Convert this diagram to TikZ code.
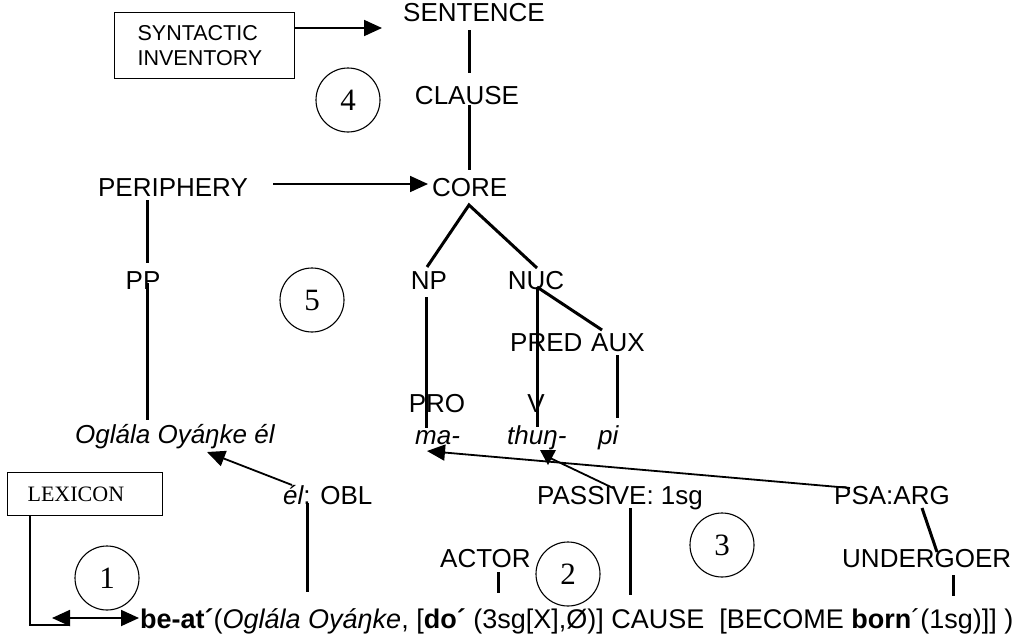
\documentclass[tikz,border=0pt]{standalone}
\usepackage{fontspec}
\setmainfont{Liberation Sans}
\newfontfamily\serifface{Liberation Serif}
\usetikzlibrary{arrows.meta}

\begin{document}
\begin{tikzpicture}[x=1pt,y=-1pt,
  lbl/.style={inner sep=0pt, font=\fontsize{26}{30}\selectfont},
  itlbl/.style={lbl, font=\fontsize{26}{30}\selectfont\itshape},
  num/.style={draw, circle, minimum size=64pt, inner sep=0pt, line width=1.1pt,
              font=\serifface\fontsize{31}{31}\selectfont},
  branch/.style={line width=3pt},
  tick/.style={line width=3pt},
  arr/.style={line width=1.8pt, -{Triangle[length=18pt,width=16pt]}},
  darr/.style={line width=1.8pt, {Triangle[length=18pt,width=16pt]}-{Triangle[length=18pt,width=16pt]}},
  boxed/.style={draw, line width=1.2pt, anchor=north west, align=left},
]
\useasboundingbox (0,0) rectangle (1027,637);

% ---- syntactic side -------------------------------------------------
\node[boxed, minimum width=180pt, minimum height=66pt, text width=134pt, inner xsep=23pt,
      font=\fontsize{21.5}{25}\selectfont] (syninv) at (114,12) {SYNTACTIC\\INVENTORY};
\node[lbl, anchor=base] (sentence) at (474,21) {SENTENCE};
\node[lbl, anchor=base] (clause) at (467,104) {CLAUSE};
\node[lbl, anchor=base west] (core) at (432,196) {CORE};
\node[lbl, anchor=base] (periphery) at (173,196) {PERIPHERY};
\node[lbl, anchor=base] (pp) at (143,289) {PP};
\node[lbl, anchor=base] (np) at (429,289) {NP};
\node[lbl, anchor=base] (nuc) at (536,289) {NUC};
\node[lbl, anchor=base west] (pred) at (510,351) {PRED};
\node[lbl, anchor=base west] (aux) at (591,351) {AUX};
\node[lbl, anchor=base] (pro) at (437,412) {PRO};
\node[lbl, anchor=base] (v) at (536,412) {V};

% ---- the clause itself -----------------------------------------------
\node[itlbl, anchor=base west] (oglala) at (75,443) {Oglála Oyáŋke él};
\node[itlbl, anchor=base west] (ma) at (415,444) {ma-};
\node[itlbl, anchor=base west] (thun) at (507,444) {thuŋ-};
\node[itlbl, anchor=base west] (pi) at (598,444) {pi};

% ---- semantic side ---------------------------------------------------
\node[boxed, minimum width=155pt, minimum height=43pt, text width=115pt, inner xsep=20pt,
      font=\serifface\fontsize{22}{24}\selectfont] (lexicon) at (7,472) {LEXICON};
\node[lbl, anchor=base west] (obl) at (283,504) {{\itshape él}: OBL};
\node[lbl, anchor=base west] (passive) at (537,504) {PASSIVE: 1sg};
\node[lbl, anchor=base west] (psa) at (834,504) {PSA:ARG};
\node[lbl, anchor=base west] (actor) at (440,567) {ACTOR};
\node[lbl, anchor=base west] (undergoer) at (842,567) {UNDERGOER};
\node[lbl, anchor=base west, font=\fontsize{27}{30}\selectfont] (logform) at (140,628)
  {\textbf{be-at´}(\textit{Oglála Oyáŋke}, [\textbf{do´} (3sg[X],Ø)] CAUSE\ \ [BECOME \textbf{born}´(1sg)]] )};

% ---- numbered steps --------------------------------------------------
\node[num] (step1) at (107,578) {1};
\node[num] (step2) at (568,574) {2};
\node[num] (step3) at (722,545) {3};
\node[num] (step4) at (348,100) {4};
\node[num] (step5) at (312,300) {5};

% ---- end points of the tree branches ------------------------------------
\coordinate (senB) at (469,30);   \coordinate (claT) at (469,73);
\coordinate (claB) at (469,105);  \coordinate (corT) at (469,170);
\coordinate (corB) at (469,205);
\coordinate (npT) at (427,267);   \coordinate (nucT) at (537,268);
\coordinate (perB) at (147,200);  \coordinate (ppT) at (147,263);
\coordinate (ppB) at (147,283);   \coordinate (ogT) at (147,420);
\coordinate (npB) at (426,297);   \coordinate (maT) at (426,428);
\coordinate (nucB) at (537,287);  \coordinate (thT) at (537,427);
\coordinate (auxT) at (602,330);
\coordinate (auxB) at (617,355);  \coordinate (piT) at (617,418);

\draw[branch] (senB) -- (claT);
\draw[branch] (claB) -- (corT);
\draw[branch] (npT) -- (corB) -- (nucT);
\draw[branch] (perB) -- (ppT);
\draw[branch] (ppB) -- (ogT);
\draw[branch] (npB) -- (maT);
\draw[branch] (nucB) -- (thT);
\draw[branch] (nucB) -- (auxT);
\draw[branch] (auxB) -- (piT);

% ---- links from the logical structure ----------------------------------
\coordinate (oblB) at (307,503);  \coordinate (lfA) at (307,592);
\coordinate (pasB) at (630,508);  \coordinate (lfB) at (630,595);
\coordinate (actB) at (498,572);  \coordinate (lfC) at (498,593);
\coordinate (undB) at (953,575);  \coordinate (lfD) at (953,596);
\coordinate (psaB) at (922,508);  \coordinate (undT) at (937,552);
\draw[tick] (oblB) -- (lfA);
\draw[tick] (pasB) -- (lfB);
\draw[tick] (actB) -- (lfC);
\draw[tick] (undB) -- (lfD);
\draw[tick] (psaB) -- (undT);

% ---- arrows ------------------------------------------------------------
\coordinate (synR) at (294,28);   \coordinate (senL) at (382,28);
\coordinate (perR) at (273,184);  \coordinate (corL) at (428,184);
\coordinate (oblT) at (292,485);  \coordinate (ogB) at (207,452);
\coordinate (psaT) at (850,488);  \coordinate (maB) at (427,451);
\coordinate (pasT) at (613,488);  \coordinate (thB) at (548,457);
\draw[arr] (synR) -- (senL);
\draw[arr] (perR) -- (corL);
\draw[arr] (oblT) -- (ogB);
\draw[arr] (psaT) -- (maB);
\draw[line width=1.8pt] (pasT) -- (thB);
\fill (thB) ++(-8,-7) -- ++(16,0) -- (548,465) -- cycle;

% lexicon feeding the logical structure
\coordinate (lexB) at (30,515);   \coordinate (lexC) at (70,625);
\coordinate (lexL) at (52,618);   \coordinate (lfL) at (139,618);
\draw[line width=2.6pt] (lexB) |- (lexC);
\draw[darr] (lexL) -- (lfL);
\end{tikzpicture}
\end{document}
